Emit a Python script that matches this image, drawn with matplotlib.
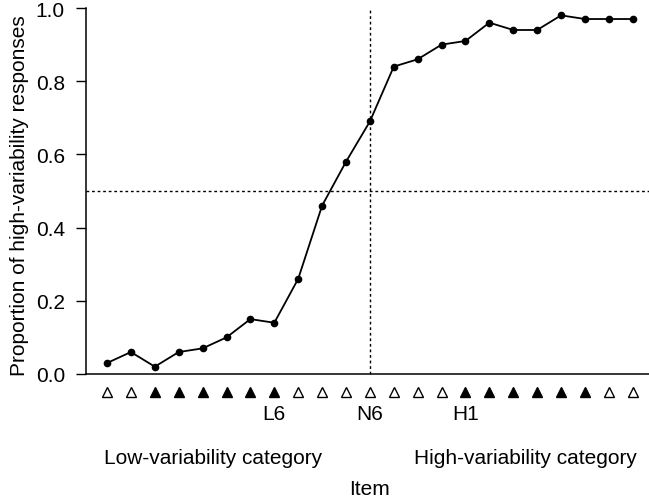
import numpy as np
import matplotlib
matplotlib.use("Agg")
import matplotlib.pyplot as plt
import matplotlib.transforms as mtransforms

plt.rcParams['font.family'] = ['Liberation Sans', 'DejaVu Sans']

# proportion of high-variability responses per item
proportions = [0.03, 0.06, 0.02, 0.06, 0.07, 0.10, 0.15, 0.14, 0.26, 0.46, 0.58, 0.69,
               0.84, 0.86, 0.90, 0.91, 0.96, 0.94, 0.94, 0.98, 0.97, 0.97, 0.97]
# filled triangle = trained category item, open = novel/other item
filled = [0, 0, 1, 1, 1, 1, 1, 1, 0, 0, 0, 0, 0, 0, 0, 1, 1, 1, 1, 1, 1, 0, 0]
item_labels = {7: 'L6', 11: 'N6', 15: 'H1'}
yticks = [0.0, 0.2, 0.4, 0.6, 0.8, 1.0]

x = np.arange(len(proportions))
fs = 15

fig = plt.figure(figsize=(6.49, 5.02), dpi=100)
ax = fig.add_axes([0.1325, 0.253, 0.8675, 0.729])

ax.plot(x, proportions, color='black', lw=1.3, marker='o', ms=4.5, zorder=3)

# reference lines
ax.axhline(0.5, color='black', lw=1.0, ls=(0, (2, 2)))
ax.axvline(11, color='black', lw=1.0, ls=(0, (2, 2)))

ax.set_xlim(-0.88, 22.68)
ax.set_ylim(0, 1.0)
ax.set_yticks(yticks)
ax.set_yticklabels(['%.1f' % v for v in yticks])
ax.set_xticks([])

for side in ['top', 'right']:
    ax.spines[side].set_visible(False)
for side in ['left', 'bottom']:
    ax.spines[side].set_linewidth(1.1)

ax.tick_params(axis='y', length=7.2, width=1.0, pad=8, labelsize=fs)

ax.set_ylabel('Proportion of high-variability responses', fontsize=fs)
ax.yaxis.set_label_coords(-0.101, 0.49)

# item markers and labels below the axis
trans = mtransforms.blended_transform_factory(ax.transData, ax.transAxes)
for xi, f in zip(x, filled):
    ax.plot(xi, -0.049, marker='^', ms=6.5, mec='black', mew=1.0,
            mfc='black' if f else 'white', transform=trans, clip_on=False)

for idx, lab in item_labels.items():
    ax.text(idx, -0.109, lab, transform=trans, ha='center', va='center', fontsize=fs)

ax.text(4.45, -0.227, 'Low-variability category', transform=trans,
        ha='center', va='center', fontsize=fs)
ax.text(17.5, -0.227, 'High-variability category', transform=trans,
        ha='center', va='center', fontsize=fs)
ax.text(11, -0.314, 'Item', transform=trans, ha='center', va='center', fontsize=fs)

fig.savefig('out.png', dpi=100)
